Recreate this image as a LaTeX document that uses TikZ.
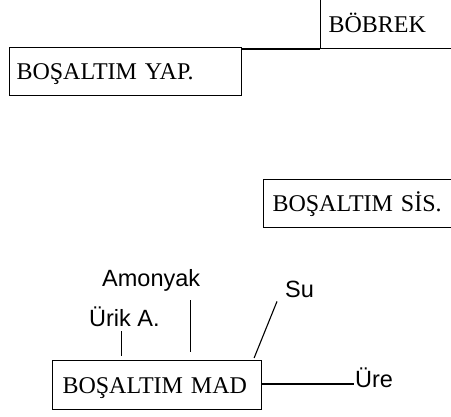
\documentclass[tikz,border=0pt]{standalone}
\usepackage{fontspec}
\setmainfont{Liberation Serif}
\newfontfamily\labelfont{Liberation Sans}
\begin{document}
\begin{tikzpicture}[x=1pt,y=-1pt,
  box/.style={draw, line width=1.1pt, inner ysep=0pt, align=left,
    text height=32pt, text depth=17pt,
    font=\fontsize{24}{28}\selectfont},
  tag/.style={inner sep=0pt, anchor=base west,
    font=\labelfont\fontsize{23.5}{27}\selectfont},
  link/.style={line width=1.1pt}]
\useasboundingbox (0,0) rectangle (451,417);

% organ and system boxes (the open ones run past the edge)
\node[box, anchor=south west, inner xsep=8pt, text width=140pt,
      text height=45pt, text depth=16pt] (bobrek) at (320,49) {BÖBREK};
\node[box, anchor=north west, inner xsep=7pt, text width=218pt,
      text height=32pt, text depth=16pt] (yap) at (9,47) {BOŞALTIM YAP.};
\node[box, anchor=north west, inner xsep=9pt, text width=200pt,
      text height=32pt, text depth=16pt] (sis) at (263,179) {BOŞALTIM SİS.};
\node[box, anchor=north west, inner xsep=10pt, text width=189pt,
      text height=33pt, text depth=16pt] (mad) at (52,360) {BOŞALTIM MAD};

% excretory products
\node[tag] (amonyak) at (102,287) {Amonyak};
\node[tag] (urik) at (89,327) {Ürik A.};
\node[tag] (su) at (285,298) {Su};
\node[tag] (ure) at (355,388) {Üre};

% connectors
\draw[link] (bobrek.south west -| yap.east) -- (bobrek.south west);
\draw[link] ([xshift=-3pt,yshift=-4pt]urik.south)
  -- ([xshift=-3pt,yshift=4pt]urik.south |- mad.north);
\draw[link] ([xshift=-10pt,yshift=-8pt]amonyak.south east)
  -- ([xshift=-10pt,yshift=8pt]amonyak.south east |- mad.north);
\draw[link] ([xshift=-8pt,yshift=-3pt]su.south west)
  -- ([xshift=-8pt,yshift=2pt]mad.north east);
\draw[link] ([yshift=4pt]ure.base west -| mad.east) -- ([xshift=-1pt,yshift=4pt]ure.base west);
\end{tikzpicture}
\end{document}
